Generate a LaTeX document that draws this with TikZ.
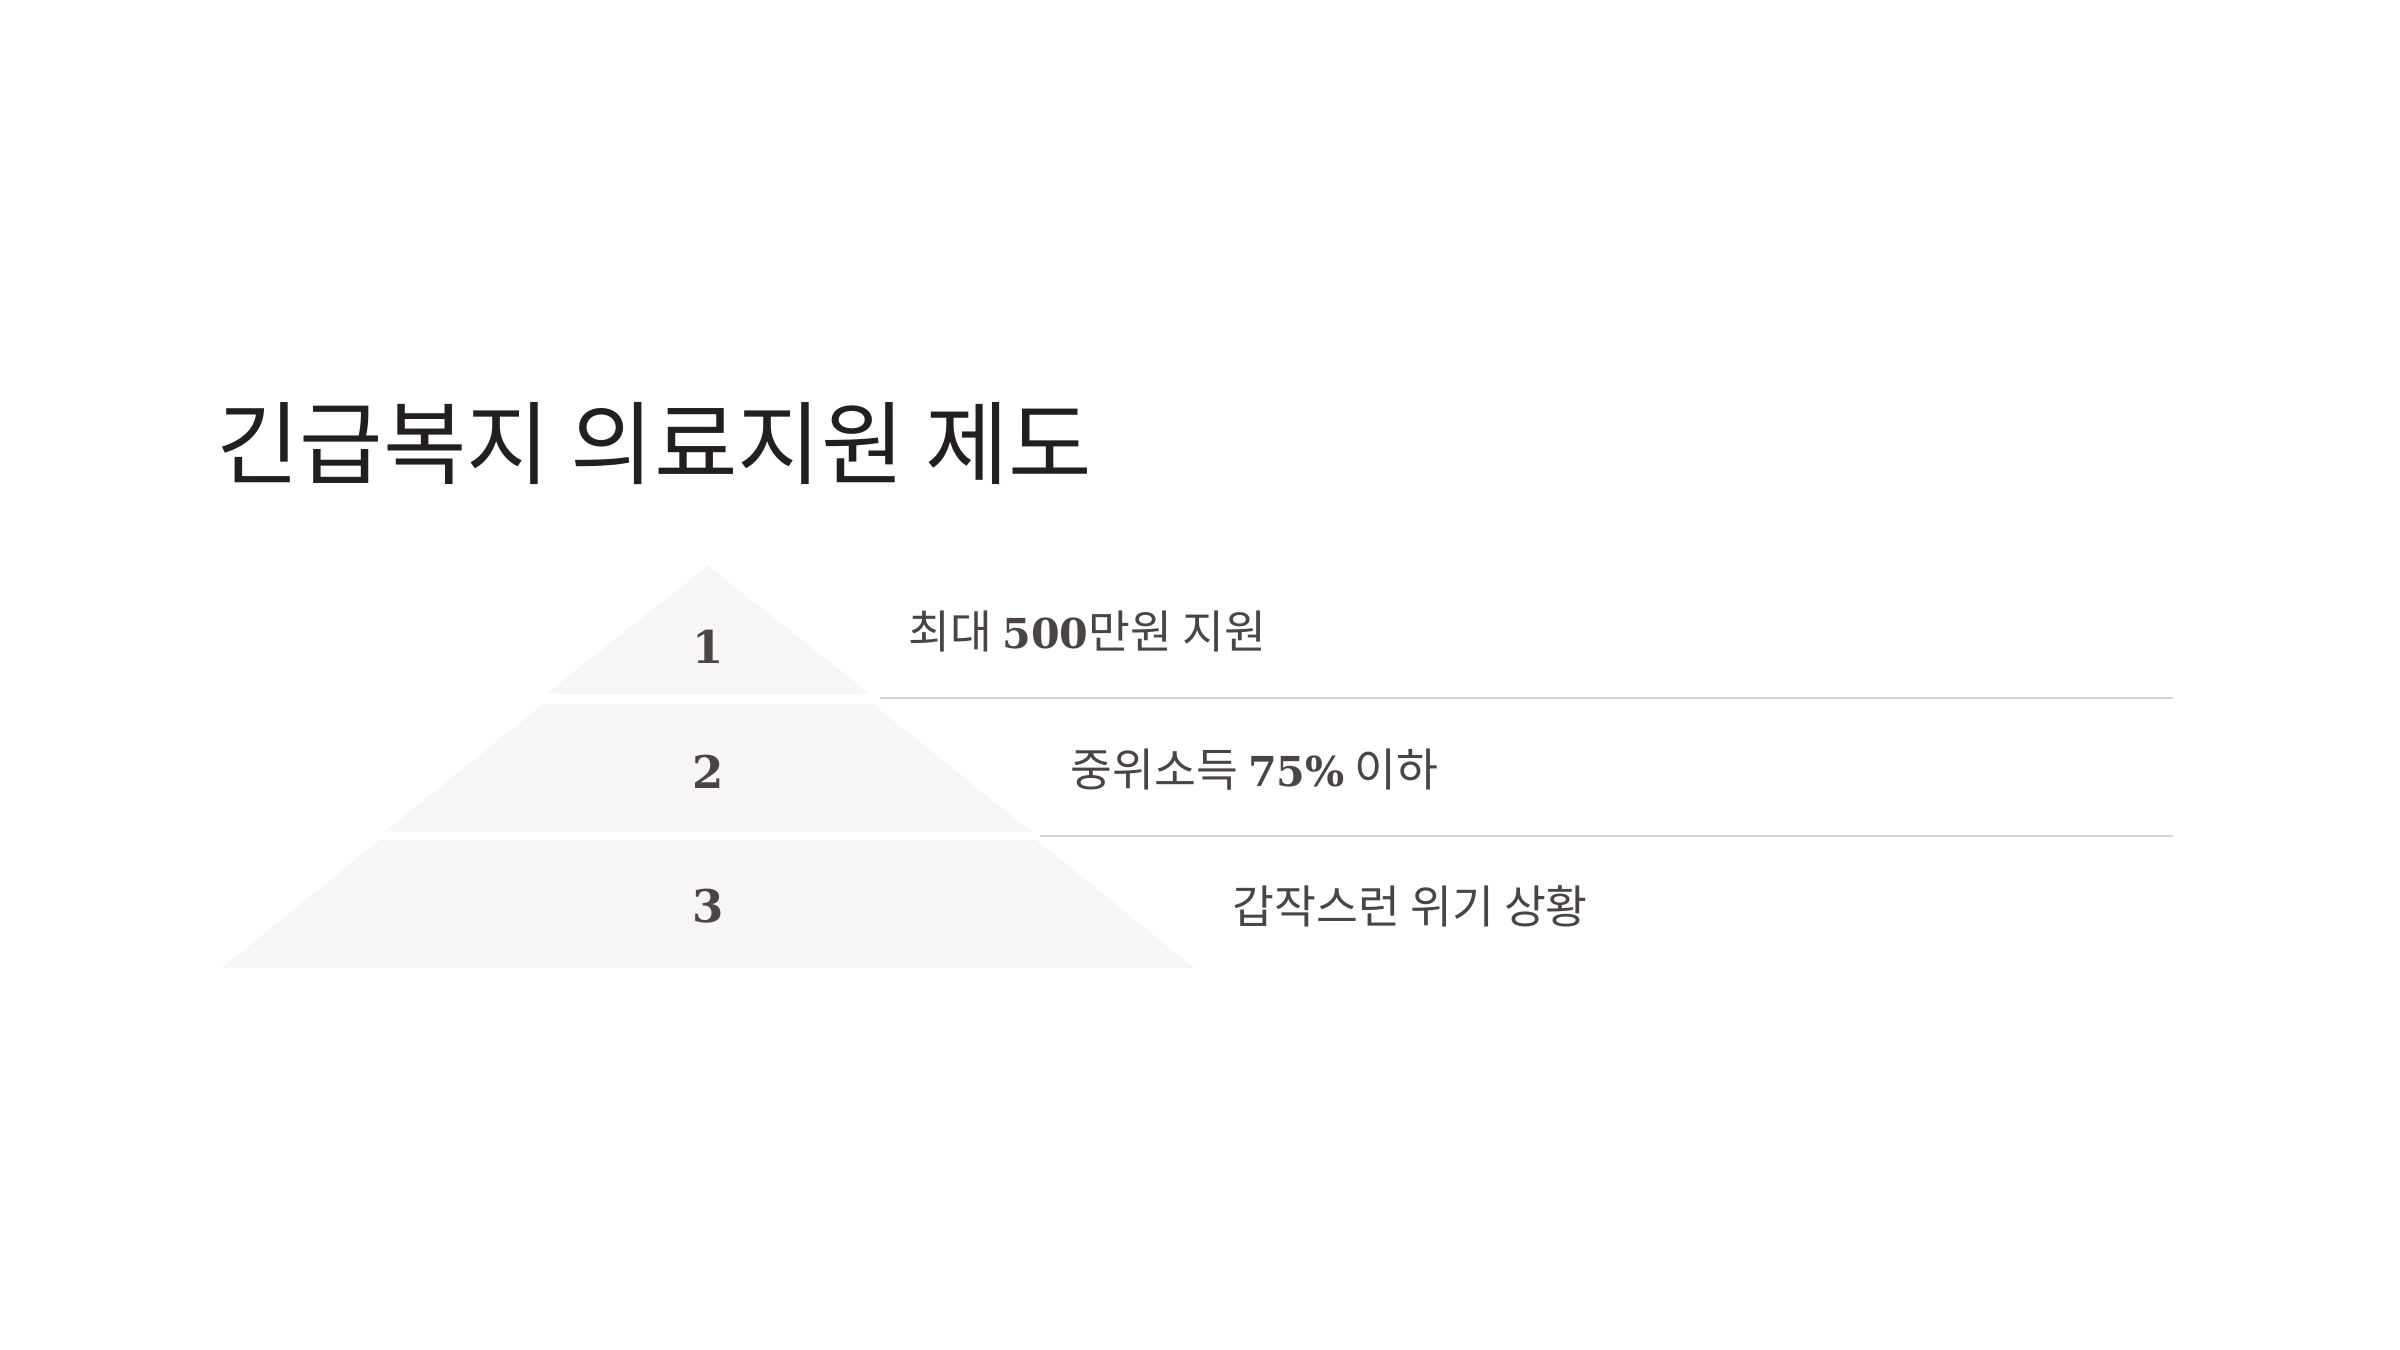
\documentclass[tikz,border=0pt]{standalone}
\usepackage{fontspec}
\usepackage{tikz}
\usetikzlibrary{positioning}
\setmainfont{DejaVu Serif}
\newfontfamily\krFont{Noto Sans CJK KR}
\tikzstyle{slide} = [x = .4pt, y = -.4pt]
\definecolor{tierColor}{HTML}{F7F5F5}
\definecolor{ruleColor}{HTML}{D6D3D3}
\definecolor{bodyText}{HTML}{4A4543}
\definecolor{titleText}{HTML}{231F1E}
\tikzstyle{tierStyle} = [fill=tierColor]
\tikzstyle{ruleLine} = [color=ruleColor, line width=.8pt]
\tikzstyle{tierNumber} = [color=bodyText, font=\fontsize{18}{22}\selectfont\bfseries, inner sep=0pt]
\tikzstyle{tierText} = [color=bodyText, font=\fontsize{18.2}{21}\krFont, anchor=west, inner sep=0pt]
\newcommand{\cx}{708}
\newcommand{\tier}[4]{\fill [tierStyle] (\cx - #2, #1) -- (\cx + #2, #1) -- (\cx + #4, #3) -- (\cx - #4, #3) -- cycle;}
\newcommand{\digits}[1]{{\rmfamily\bfseries\fontsize{16.5}{20}\selectfont #1}}

\begin{document}
\begin{tikzpicture}[slide]
  \useasboundingbox [fill=white] (0,0) rectangle (2400,1350);
  \node [color=titleText, font=\fontsize{36.3}{42}\krFont, anchor=west, inner sep=0pt] (title) at (216,444) {긴급복지 의료지원 제도};
  % pyramid
  \tier{566}{0}{694}{162}
  \tier{704}{164.5}{832}{323.5}
  \tier{840}{328.5}{968}{486}
  \node [tierNumber] (num1) at (\cx,647) {1};
  \node [tierNumber] (num2) at (\cx,772) {2};
  \node [tierNumber] (num3) at (\cx,906) {3};
  % rules
  \coordinate (rule1a) at (880,698);
  \coordinate (rule1b) at (2173,698);
  \coordinate (rule2a) at (1040,836);
  \coordinate (rule2b) at (2173,836);
  \draw [ruleLine] (rule1a) -- (rule1b);
  \draw [ruleLine] (rule2a) -- (rule2b);
  % texts
  \node [tierText] (text1) at (908,631) {최대 \digits{500}만원 지원};
  \node [tierText] (text2) at (1070,770) {중위소득 \digits{75\%} 이하};
  \node [tierText] (text3) at (1232,906) {갑작스런 위기 상황};
\end{tikzpicture}
\end{document}
